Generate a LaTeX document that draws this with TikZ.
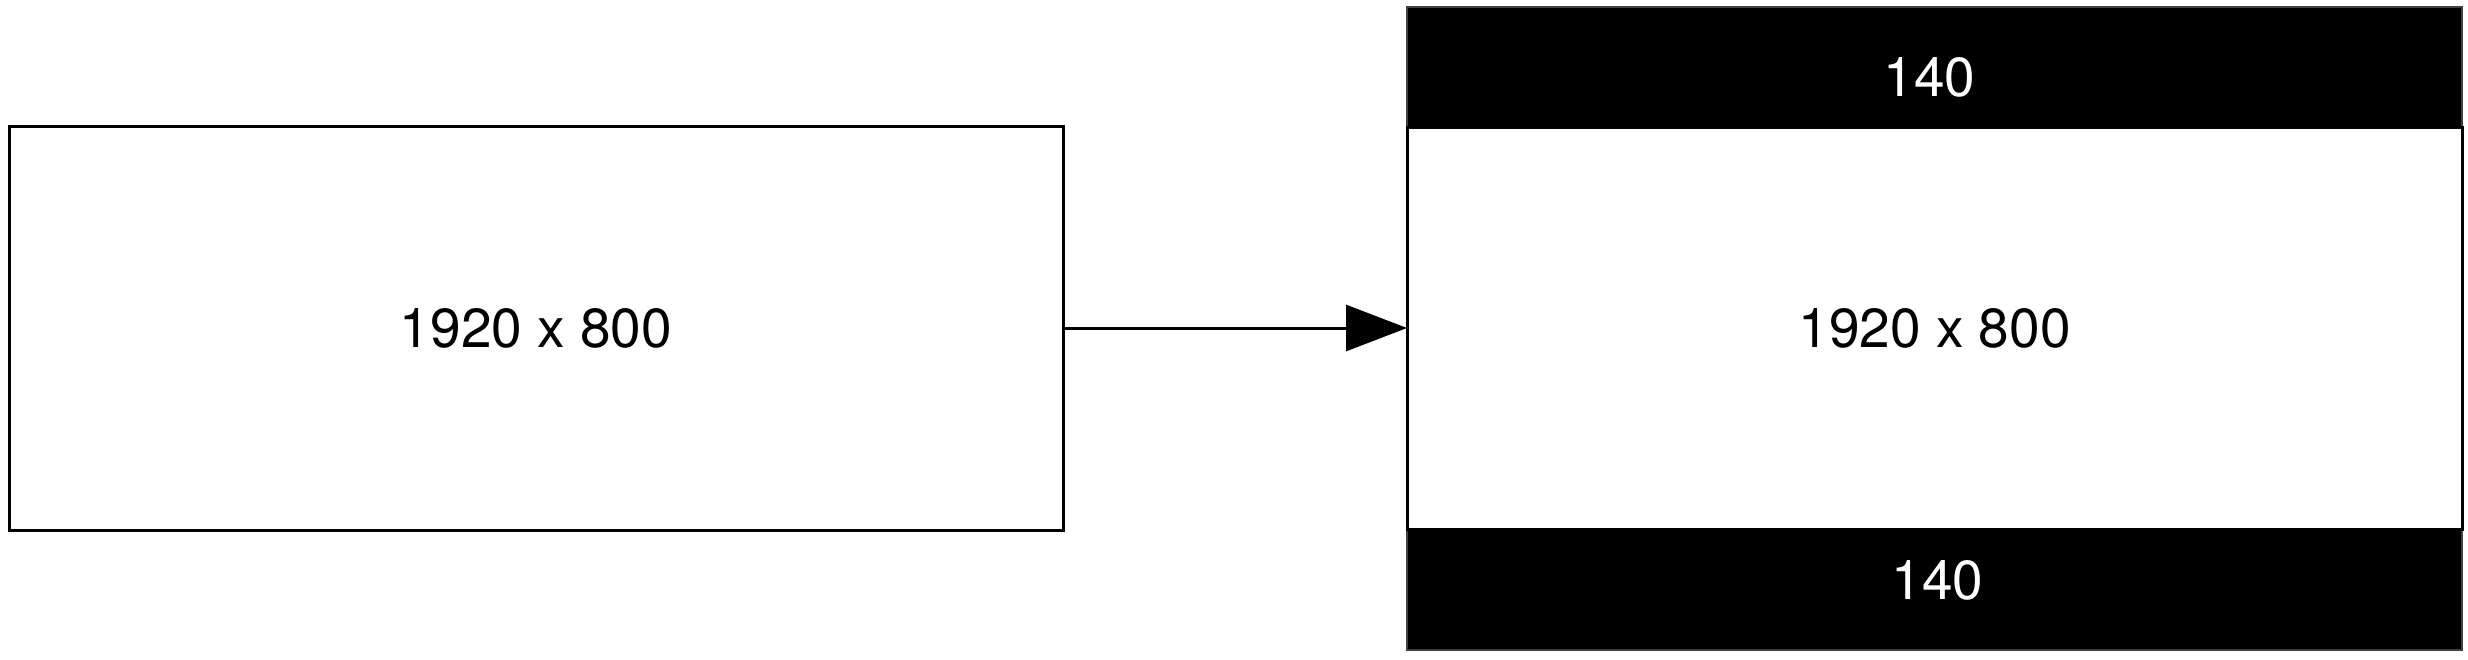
\documentclass[tikz,border=0pt]{standalone}
\usepackage{fontspec}
\setmainfont{TeX Gyre Heros}
\usetikzlibrary{arrows.meta}
\begin{document}
\begin{tikzpicture}[x=0.5pt,y=-0.5pt,
  box/.style={draw=black,line width=1.5pt,fill=white,inner sep=0pt,outer sep=0pt,
    font=\fontsize{27.5}{33}\selectfont},
  band/.style={draw=black!75,line width=0.75pt,fill=black,text=white,inner sep=0pt,outer sep=0pt,
    minimum width=527.5pt,text height=19.8pt,text depth=0pt,font=\fontsize{27.5}{33}\selectfont},
  conn/.style={line width=1.5pt,-{Triangle[length=30.5pt,width=23pt]}}]
\useasboundingbox (0,0) rectangle (2468,659);
\node[box,minimum width=527pt,minimum height=202pt] (left) at (536,328) {1920 x 800};
\node[band,minimum height=60pt] (top) at (1934.5,67) {\hspace*{-5pt}\raisebox{-5pt}{140}};
\node[band,minimum height=60.5pt] (bot) at (1934.5,589.5) {\hspace*{3pt}\raisebox{5pt}{140}};
\node[box,minimum width=527.5pt,minimum height=201pt] (right) at (1934.5,328) {1920 x 800};
\draw[conn] (left.east) -- (right.west);
\end{tikzpicture}
\end{document}
